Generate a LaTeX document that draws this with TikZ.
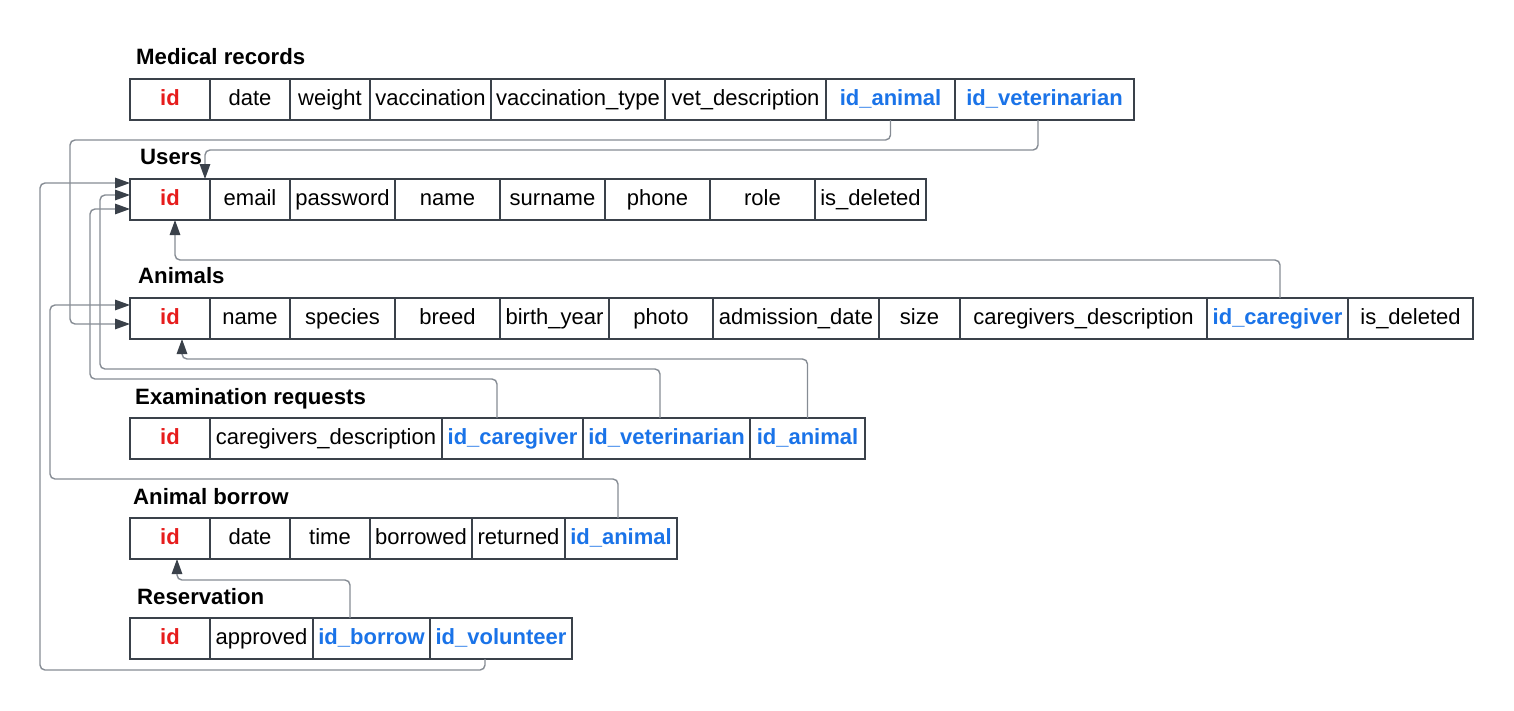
\documentclass[tikz,border=0pt]{standalone}
\usepackage{fontspec}
\setmainfont{Liberation Sans}
\usetikzlibrary{arrows.meta}
\definecolor{pkred}{HTML}{E61C1C}
\definecolor{fkblue}{HTML}{1A73E8}
\definecolor{edgecol}{HTML}{3A414A}
\definecolor{conncol}{HTML}{868C94}
\newcommand\erow[3]{%
  \foreach \l/\r/\n/\t/\s in {#3} {%
    \node[cell,\s,minimum width={(\r-\l)*1pt}] (#1-\n) at ({(\l+\r)/2},#2) {\t};
  }}
\begin{document}
\begin{tikzpicture}[x=1pt,y=-1pt,
  cell/.style={draw=edgecol,line width=2pt,rectangle,inner sep=0pt,outer sep=0pt,
    minimum height=41pt,text height=15.5pt,text depth=4.5pt,
    font=\fontsize{22}{26}\selectfont},
  pk/.style={text=pkred,font=\fontsize{22}{26}\selectfont\bfseries},
  fk/.style={text=fkblue,font=\fontsize{22}{26}\selectfont\bfseries},
  att/.style={text=black},
  ttl/.style={anchor=base west,inner sep=0pt,font=\fontsize{22.2}{26}\selectfont\bfseries},
  conn/.style={draw=conncol,line width=1.4pt,rounded corners=5pt,
    -{Triangle[length=15pt,width=10.5pt,color=edgecol]}}]
\useasboundingbox (0,0) rectangle (1514,710);

% titles
\node[ttl] (t-mr) at (136,64.5) {Medical records};
\node[ttl] (t-us) at (140,164.5) {Users};
\node[ttl] (t-an) at (138,283.5) {Animals};
\node[ttl] (t-er) at (135,404.5) {Examination requests};
\node[ttl] (t-ab) at (133,504.5) {Animal borrow};
\node[ttl] (t-rs) at (137,604.5) {Reservation};

% tables
\erow{mr}{99.5}{130/210/id/id/pk, 210/290/date/date/att, 290/370/weight/weight/att,
  370/491/vac/vaccination/att, 491/665/vact/vaccination\_type/att,
  665/826/vdesc/vet\_description/att, 826/955/ida/id\_animal/fk,
  955/1134/idv/id\_veterinarian/fk}
\erow{us}{199.5}{130/210/id/id/pk, 210/290/email/email/att, 290/395/pw/password/att,
  395/500/name/name/att, 500/605/sur/surname/att, 605/710/phone/phone/att,
  710/815/role/role/att, 815/926/del/is\_deleted/att}
\erow{an}{318.5}{130/210/id/id/pk, 210/290/name/name/att, 290/395/spec/species/att,
  395/500/breed/breed/att, 500/609/by/birth\_year/att, 609/713/photo/photo/att,
  713/879/adm/admission\_date/att, 879/960/size/size/att,
  960/1207/cd/caregivers\_description/att, 1207/1348/idc/id\_caregiver/fk,
  1348/1473/del/is\_deleted/att}
\erow{er}{438.5}{130/210/id/id/pk, 210/442/cd/caregivers\_description/att,
  442/583/idc/id\_caregiver/fk, 583/750/idv/id\_veterinarian/fk,
  750/865/ida/id\_animal/fk}
\erow{ab}{538.5}{130/210/id/id/pk, 210/290/date/date/att, 290/370/time/time/att,
  370/472/bor/borrowed/att, 472/565/ret/returned/att, 565/677/ida/id\_animal/fk}
\erow{rs}{638.5}{130/210/id/id/pk, 210/313/appr/approved/att,
  313/430/idb/id\_borrow/fk, 430/572/idv/id\_volunteer/fk}

% connectors
\path[conn] (mr-ida.south) |- (70,140) |- ([yshift=-5.5pt]an-id.west);
\path[conn] ([xshift=-6.5pt]mr-idv.south) |- (205,150) -- ([xshift=35pt]us-id.north);
\path[conn] ([xshift=2.5pt]an-idc.north) |- (175,260) -- ([xshift=5pt]us-id.south);
\path[conn] ([xshift=-15.5pt]er-idc.north) |- (90,379) |- ([yshift=-9.5pt]us-id.west);
\path[conn] ([xshift=-6.5pt]er-idv.north) |- (100,369) |- ([yshift=4.5pt]us-id.west);
\path[conn] (er-ida.north) |- (182,359) -- ([xshift=12pt]an-id.south);
\path[conn] ([xshift=-3pt]ab-ida.north) |- (50,479) |- ([yshift=13.5pt]an-id.west);
\path[conn] ([xshift=-21.5pt]rs-idb.north) |- (177,580) -- ([xshift=7pt]ab-id.south);
\path[conn] ([xshift=-16pt]rs-idv.south) |- (40,670) |- ([yshift=16.5pt]us-id.west);
\end{tikzpicture}
\end{document}
